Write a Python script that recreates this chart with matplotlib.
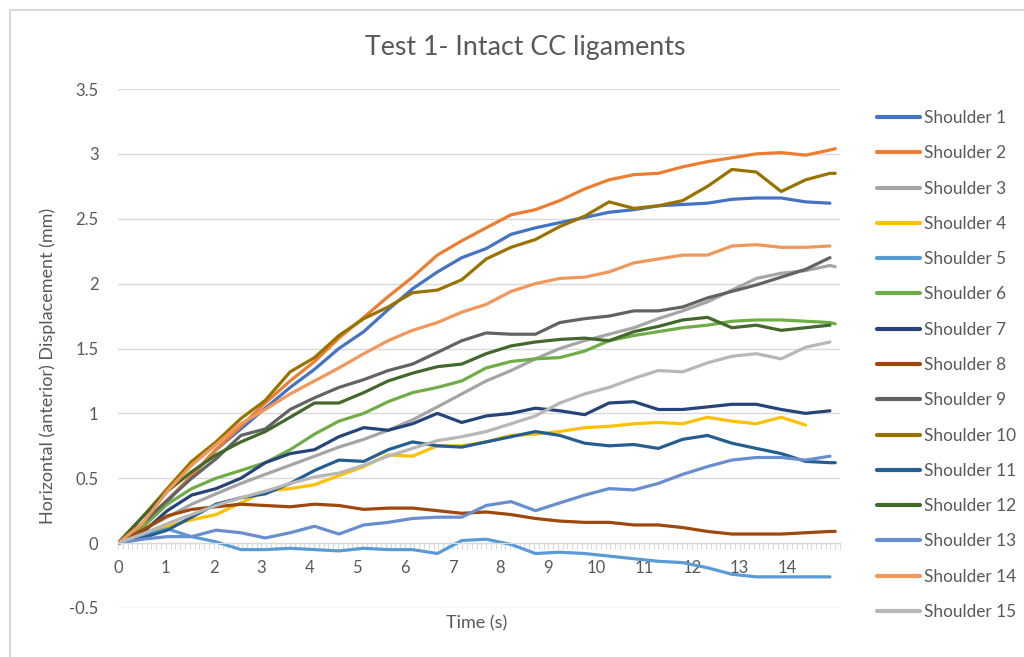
import numpy as np
import matplotlib
matplotlib.use("Agg")
import matplotlib.pyplot as plt
from matplotlib.ticker import MultipleLocator, FuncFormatter
from matplotlib.lines import Line2D

plt.rcParams['font.family'] = ['Lato', 'DejaVu Sans']

nan = np.nan
time_s = [0, 0.51, 1.03, 1.54, 2.05, 2.57, 3.08, 3.60, 4.11, 4.62, 5.14, 5.65, 6.16,
          6.68, 7.19, 7.70, 8.22, 8.73, 9.24, 9.76, 10.27, 10.79, 11.30, 11.81, 12.33,
          12.84, 13.35, 13.87, 14.38, 14.89, 15.00]

shoulder_1 = [0, 0.14, 0.32, 0.52, 0.72, 0.88, 1.04, 1.2, 1.34, 1.5, 1.63, 1.8, 1.96, 2.09, 2.2, 2.27,
              2.38, 2.43, 2.47, 2.51, 2.55, 2.57, 2.6, 2.61, 2.62, 2.65, 2.66, 2.66, 2.63, 2.62, nan]
shoulder_2 = [0, 0.15, 0.33, 0.52, 0.72, 0.9, 1.08, 1.25, 1.4, 1.58, 1.74, 1.9, 2.05, 2.22, 2.33, 2.43,
              2.53, 2.57, 2.64, 2.73, 2.8, 2.84, 2.85, 2.9, 2.94, 2.97, 3.0, 3.01, 2.99, 3.03, 3.04]
shoulder_3 = [0, 0.1, 0.2, 0.3, 0.38, 0.46, 0.53, 0.6, 0.67, 0.74, 0.8, 0.87, 0.95, 1.05, 1.15, 1.25,
              1.33, 1.42, 1.5, 1.56, 1.61, 1.66, 1.73, 1.79, 1.86, 1.95, 2.04, 2.08, 2.1, 2.14, 2.13]
shoulder_4 = [0, 0.08, 0.13, 0.18, 0.22, 0.31, 0.4, 0.42, 0.45, 0.52, 0.59, 0.68, 0.67, 0.75, 0.75, 0.78,
              0.83, 0.84, 0.86, 0.89, 0.9, 0.92, 0.93, 0.92, 0.97, 0.94, 0.92, 0.97, 0.91, nan, nan]
shoulder_5 = [0, 0.06, 0.11, 0.05, 0.01, -0.05, -0.05, -0.04, -0.05, -0.06, -0.04, -0.05, -0.05, -0.08,
              0.02, 0.03, -0.01, -0.08, -0.07, -0.08, -0.1, -0.12, -0.14, -0.15, -0.19, -0.24, -0.26,
              -0.26, -0.26, -0.26, nan]
shoulder_6 = [0, 0.12, 0.3, 0.42, 0.5, 0.56, 0.62, 0.72, 0.84, 0.94, 1.0, 1.09, 1.16, 1.2, 1.25, 1.35,
              1.4, 1.42, 1.43, 1.48, 1.56, 1.6, 1.63, 1.66, 1.68, 1.71, 1.72, 1.72, 1.71, 1.7, 1.69]
shoulder_7 = [0, 0.08, 0.25, 0.37, 0.42, 0.5, 0.62, 0.69, 0.72, 0.82, 0.89, 0.87, 0.92, 1.0, 0.93, 0.98,
              1.0, 1.04, 1.02, 0.99, 1.08, 1.09, 1.03, 1.03, 1.05, 1.07, 1.07, 1.03, 1.0, 1.02, nan]
shoulder_8 = [0, 0.1, 0.21, 0.26, 0.28, 0.3, 0.29, 0.28, 0.3, 0.29, 0.26, 0.27, 0.27, 0.25, 0.23, 0.24,
              0.22, 0.19, 0.17, 0.16, 0.16, 0.14, 0.14, 0.12, 0.09, 0.07, 0.07, 0.07, 0.08, 0.09, 0.09]
shoulder_9 = [0, 0.15, 0.33, 0.5, 0.65, 0.83, 0.88, 1.03, 1.12, 1.2, 1.26, 1.33, 1.38, 1.47, 1.56, 1.62,
              1.61, 1.61, 1.7, 1.73, 1.75, 1.79, 1.79, 1.82, 1.89, 1.94, 1.99, 2.05, 2.11, 2.2, nan]
shoulder_10 = [0, 0.2, 0.42, 0.63, 0.78, 0.96, 1.1, 1.32, 1.43, 1.6, 1.73, 1.82, 1.93, 1.95, 2.03, 2.19,
               2.28, 2.34, 2.44, 2.52, 2.63, 2.58, 2.6, 2.64, 2.75, 2.88, 2.86, 2.71, 2.8, 2.85, 2.85]
shoulder_11 = [0, 0.04, 0.1, 0.2, 0.3, 0.35, 0.38, 0.46, 0.56, 0.64, 0.63, 0.72, 0.78, 0.75, 0.74, 0.78,
               0.82, 0.86, 0.83, 0.77, 0.75, 0.76, 0.73, 0.8, 0.83, 0.77, 0.73, 0.69, 0.63, 0.62, 0.62]
shoulder_12 = [0, 0.2, 0.4, 0.55, 0.68, 0.78, 0.86, 0.97, 1.08, 1.08, 1.16, 1.25, 1.31, 1.36, 1.38, 1.46,
               1.52, 1.55, 1.57, 1.58, 1.56, 1.63, 1.67, 1.72, 1.74, 1.66, 1.68, 1.64, 1.66, 1.68, nan]
shoulder_13 = [0, 0.03, 0.05, 0.05, 0.1, 0.08, 0.04, 0.08, 0.13, 0.07, 0.14, 0.16, 0.19, 0.2, 0.2, 0.29,
               0.32, 0.25, 0.31, 0.37, 0.42, 0.41, 0.46, 0.53, 0.59, 0.64, 0.66, 0.66, 0.64, 0.67, nan]
shoulder_14 = [0, 0.15, 0.4, 0.6, 0.76, 0.92, 1.03, 1.15, 1.25, 1.35, 1.46, 1.56, 1.64, 1.7, 1.78, 1.84,
               1.94, 2.0, 2.04, 2.05, 2.09, 2.16, 2.19, 2.22, 2.22, 2.29, 2.3, 2.28, 2.28, 2.29, nan]
shoulder_15 = [0, 0.07, 0.15, 0.22, 0.29, 0.35, 0.4, 0.46, 0.51, 0.54, 0.6, 0.67, 0.73, 0.79, 0.82, 0.86,
               0.92, 0.98, 1.08, 1.15, 1.2, 1.27, 1.33, 1.32, 1.39, 1.44, 1.46, 1.42, 1.51, 1.55, nan]

series = [shoulder_1, shoulder_2, shoulder_3, shoulder_4, shoulder_5, shoulder_6, shoulder_7,
          shoulder_8, shoulder_9, shoulder_10, shoulder_11, shoulder_12, shoulder_13,
          shoulder_14, shoulder_15]
labels = [f"Shoulder {i}" for i in range(1, 16)]
colors = ["#4472C4", "#ED7D31", "#A5A5A5", "#FFC000", "#5B9BD5", "#70AD47", "#264478",
          "#9E480E", "#636363", "#997300", "#255E91", "#43682B", "#698ED0", "#F1975A", "#B7B7B7"]

TXT = "#595959"
GRID = "#D9D9D9"

fig = plt.figure(figsize=(10.24, 6.57), dpi=100)
ax = fig.add_axes([118 / 1024, 49 / 657, 722 / 1024, 519 / 657])

for y, lab, c in zip(series, labels, colors):
    ax.plot(time_s, y, color=c, lw=2.3, label=lab, solid_capstyle='round', solid_joinstyle='round')

ax.set_xlim(0, 15.1)
ax.set_ylim(-0.5, 3.5)
ax.yaxis.set_major_locator(MultipleLocator(0.5))
ax.yaxis.set_major_formatter(FuncFormatter(lambda v, p: f"{v:g}"))
ax.xaxis.set_major_locator(MultipleLocator(1))
ax.xaxis.set_minor_locator(MultipleLocator(0.1))
ax.xaxis.set_major_formatter(FuncFormatter(lambda v, p: f"{int(round(v))}" if v <= 14.01 else ""))
ax.grid(axis='y', color=GRID, lw=1.0)
ax.set_axisbelow(True)
for s in ['top', 'right', 'left']:
    ax.spines[s].set_visible(False)
ax.spines['bottom'].set_position(('data', 0))
ax.spines['bottom'].set_color(GRID)
ax.tick_params(axis='y', length=0, pad=14, labelsize=12, labelcolor=TXT)
ax.tick_params(axis='x', which='both', length=4.5, color=GRID, width=0.8, direction='out')
ax.tick_params(axis='x', which='major', pad=8, labelsize=12, labelcolor=TXT)

fig.text(0.5125, 1 - 47 / 657, "Test 1- Intact CC ligaments", ha='center', va='center',
         fontsize=19.3, color=TXT)
fig.text(48 / 1024, 1 - 366 / 657, "Horizontal (anterior) Displacement (mm)", rotation=90,
         ha='center', va='center', fontsize=13, color=TXT)
fig.text(477 / 1024, 1 - 623 / 657, "Time (s)", ha='center', va='center', fontsize=13, color=TXT)

leg = fig.legend(loc='upper left', bbox_to_anchor=(877 / 1024, 1 - 110 / 657), frameon=False,
                 fontsize=12.4, handlelength=2.5, handletextpad=0.25, labelspacing=1.12,
                 borderaxespad=0, borderpad=0)
for t in leg.get_texts():
    t.set_color(TXT)
for h in leg.get_lines():
    h.set_linewidth(3)

fig.add_artist(Line2D([10 / 1024, 10 / 1024], [0, 1 - 10 / 657], color=GRID, lw=1.5,
                      transform=fig.transFigure))
fig.add_artist(Line2D([10 / 1024, 1], [1 - 10 / 657, 1 - 10 / 657], color=GRID, lw=1.5,
                      transform=fig.transFigure))

fig.savefig("out.png", dpi=100, facecolor="white")
